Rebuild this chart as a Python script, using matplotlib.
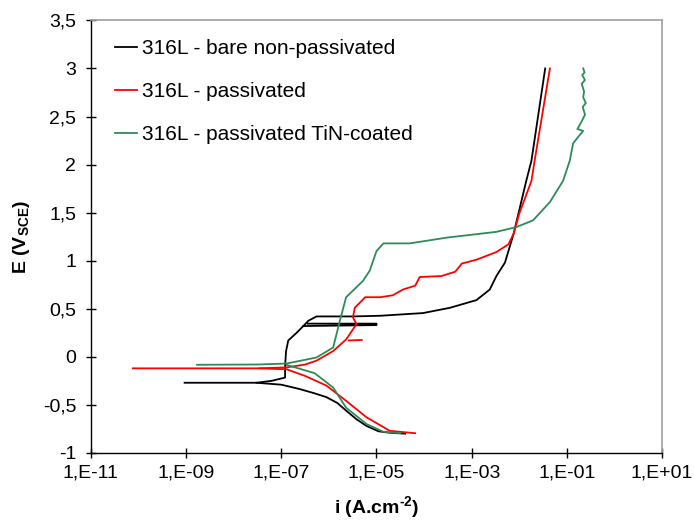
import math
import matplotlib
matplotlib.use("Agg")
import matplotlib.pyplot as plt
from matplotlib.ticker import FixedLocator, FuncFormatter, NullLocator

plt.rcParams['font.family'] = ['Liberation Sans', 'DejaVu Sans']
plt.rcParams['mathtext.fontset'] = 'custom'
plt.rcParams['mathtext.rm'] = 'Liberation Sans'
plt.rcParams['mathtext.bf'] = 'Liberation Sans:bold'

# 316L bare non-passivated (black)
bare_ano_i = [9.3e-10, 3.0e-8, 6.3e-8, 1.2e-7, 1.2e-7, 1.26e-7, 1.4e-7, 2.1e-7, 2.9e-7,
              3.7e-7, 5.5e-7, 3.2e-6, 1.2e-5, 9.5e-5, 3.5e-4, 1.26e-3, 2.4e-3, 3.3e-3,
              5.0e-3, 7.6e-3, 1.4e-2, 1.8e-2, 3.5e-2]
bare_ano_E = [-0.27, -0.27, -0.25, -0.216, -0.1, 0.06, 0.17, 0.25, 0.32,
              0.375, 0.42, 0.42, 0.427, 0.455, 0.51, 0.59, 0.70, 0.84,
              0.98, 1.28, 1.83, 2.04, 3.0]
bare_rev_i = [2.9e-7, 1.0e-5, 1.0e-5, 3.6e-7]
bare_rev_E = [0.32, 0.33, 0.345, 0.345]
bare_cat_i = [3.0e-8, 1.0e-7, 2.5e-7, 5.0e-7, 8.9e-7, 1.5e-6, 2.3e-6, 3.8e-6, 6.2e-6,
              1.1e-5, 1.9e-5, 4.0e-5]
bare_cat_E = [-0.27, -0.29, -0.337, -0.38, -0.42, -0.48, -0.56, -0.65, -0.72,
              -0.775, -0.79, -0.80]

# 316L passivated (red)
pass_ano_i = [7.6e-11, 3.5e-8, 1.3e-7, 3.2e-7, 5.5e-7, 1.23e-6, 2.3e-6, 3.8e-6, 3.2e-6,
              3.5e-6, 5.8e-6, 1.2e-5, 2.2e-5, 3.6e-5, 6.5e-5, 8.1e-5, 2.3e-4, 4.5e-4,
              6.2e-4, 1.26e-3, 3.3e-3, 5.9e-3, 7.6e-3, 1.0e-2, 1.8e-2, 2.1e-2, 4.4e-2]
pass_ano_E = [-0.12, -0.12, -0.11, -0.08, -0.04, 0.06, 0.18, 0.34, 0.41,
              0.51, 0.62, 0.62, 0.64, 0.70, 0.74, 0.83, 0.84, 0.885,
              0.97, 1.01, 1.09, 1.17, 1.28, 1.49, 1.83, 2.04, 3.0]
pass_hook_i = [2.6e-6, 4.9e-6]
pass_hook_E = [0.17, 0.175]
pass_cat_i = [3.5e-8, 1.3e-7, 3.2e-7, 8.9e-7, 2.3e-6, 6.2e-6, 1.9e-5, 6.5e-5]
pass_cat_E = [-0.12, -0.13, -0.2, -0.30, -0.458, -0.63, -0.77, -0.795]

# 316L passivated TiN-coated (green)
tin_ano_i = [1.7e-9, 3.2e-8, 1.3e-7, 5.5e-7, 1.23e-6, 1.7e-6, 2.3e-6, 5.2e-6, 7.2e-6,
             1.0e-5, 1.4e-5, 5.0e-5, 3.0e-4, 3.3e-3, 8.7e-3, 1.95e-2, 4.4e-2, 8.3e-2,
             1.15e-1, 1.35e-1, 1.74e-1, 2.2e-1, 1.66e-1, 2.0e-1, 2.4e-1, 2.15e-1, 2.5e-1,
             2.2e-1, 2.3e-1, 2.05e-1, 2.4e-1, 2.1e-1, 2.35e-1, 2.2e-1]
tin_ano_E = [-0.083, -0.08, -0.07, -0.007, 0.097, 0.375, 0.62, 0.79, 0.896,
             1.1, 1.18, 1.18, 1.24, 1.30, 1.35, 1.42, 1.61, 1.83,
             2.04, 2.22, 2.29, 2.35, 2.37, 2.44, 2.52, 2.60, 2.64,
             2.70, 2.76, 2.84, 2.88, 2.93, 2.96, 3.0]
tin_cat_i = [1.3e-7, 5.0e-7, 1.23e-6, 2.3e-6, 6.2e-6, 1.4e-5, 3.2e-5]
tin_cat_E = [-0.085, -0.17, -0.32, -0.53, -0.70, -0.78, -0.795]

labels = ["316L - bare non-passivated", "316L - passivated", "316L - passivated TiN-coated"]
green = '#2e8b57'

fig = plt.figure(figsize=(6.94, 5.23), dpi=100)
ax = fig.add_axes([0.131, 0.134, 0.823, 0.827])

ax.plot(bare_ano_i, bare_ano_E, color='black', lw=1.3, label=labels[0])
ax.plot(bare_rev_i, bare_rev_E, color='black', lw=1.3)
ax.plot(bare_cat_i, bare_cat_E, color='black', lw=1.3)
ax.plot(pass_ano_i, pass_ano_E, color='red', lw=1.3, label=labels[1])
ax.plot(pass_hook_i, pass_hook_E, color='red', lw=1.3)
ax.plot(pass_cat_i, pass_cat_E, color='red', lw=1.3)
ax.plot(tin_ano_i, tin_ano_E, color=green, lw=1.3, label=labels[2])
ax.plot(tin_cat_i, tin_cat_E, color=green, lw=1.3)

ax.set_xscale('log')
ax.set_xlim(1e-11, 1e1)
ax.set_ylim(-1, 3.5)

xticks = [1e-11, 1e-9, 1e-7, 1e-5, 1e-3, 1e-1, 1e1]
ax.xaxis.set_major_locator(FixedLocator(xticks))
ax.xaxis.set_minor_locator(NullLocator())
ax.xaxis.set_major_formatter(FuncFormatter(lambda v, p: "1,E%+03d" % round(math.log10(v))))
yticks = [-1, -0.5, 0, 0.5, 1, 1.5, 2, 2.5, 3, 3.5]
ax.set_yticks(yticks)
ax.yaxis.set_major_formatter(FuncFormatter(lambda v, p: ("%g" % v).replace('.', ',')))

ax.tick_params(direction='inout', length=7, width=1, labelsize=14)
ax.tick_params(axis='x', pad=5)
ax.tick_params(axis='y', pad=7)
for s in ['top', 'right']:
    ax.spines[s].set_color('#a0a0a0')
    ax.spines[s].set_linewidth(1.2)
for s in ['left', 'bottom']:
    ax.spines[s].set_linewidth(1)

ax.set_xlabel("i (A.cm$^{\\mathbf{\u2010 2}}$)", fontsize=14, fontweight='bold', labelpad=9)
ax.set_ylabel(r"E (V$_{\mathbf{SCE}}$)", fontsize=14, fontweight='bold', labelpad=8)

ax.legend(loc='upper left', frameon=False, fontsize=15, handlelength=1.05, handletextpad=0.25,
          labelspacing=1.15, borderaxespad=0.5, bbox_to_anchor=(0.01, 1.0))

fig.savefig("out.png", dpi=100)
